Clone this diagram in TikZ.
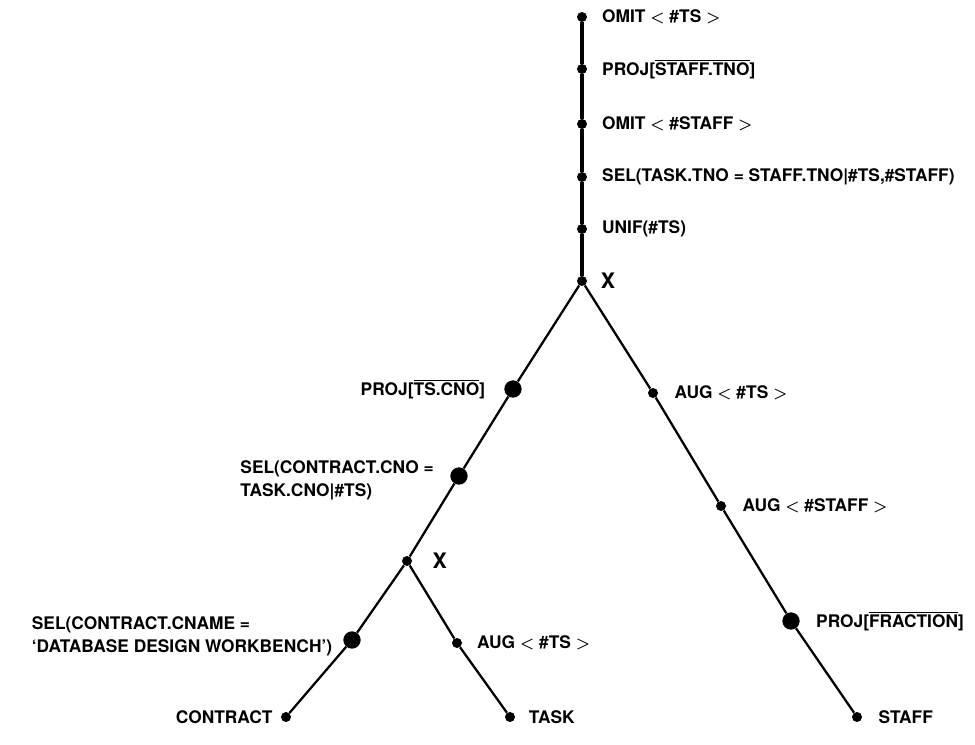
\documentclass[tikz,border=0pt]{standalone}
\usepackage{amsmath}
\usepackage{fontspec}
\setmainfont{TeX Gyre Heros}
\usetikzlibrary{positioning}

\newcommand{\lt}{\ensuremath{\boldsymbol{<}}}
\newcommand{\gt}{\ensuremath{\boldsymbol{>}}}

\begin{document}
\begin{tikzpicture}[x=0.75pt,y=-0.75pt,
    op/.style={circle,fill=black,inner sep=0pt,minimum size=7.5pt},
    bigop/.style={circle,fill=black,inner sep=0pt,minimum size=13pt},
    lbl/.style={inner sep=0pt,font=\fontsize{13}{17}\selectfont\bfseries},
    cross/.style={inner sep=0pt,font=\fontsize{16}{18}\selectfont\bfseries},
    arc/.style={line width=1.7pt},
    stem/.style={line width=2.3pt}]
    \useasboundingbox (0,0) rectangle (975,745);

    % operators above the top join
    \node[op] (omitts) at (582,17) {};
    \node[op] (projtno) at (582,69) {};
    \node[op] (omitstaff) at (582,124) {};
    \node[op] (seltno) at (582,177) {};
    \node[op] (unif) at (582,229) {};
    \node[op] (jointop) at (582,281) {};

    % left branch
    \node[bigop] (projcno) at (513,389) {};
    \node[bigop] (selcno) at (459,476) {};
    \node[op] (joinlow) at (407,561) {};
    \node[bigop] (selcname) at (352,640) {};
    \node[op] (contract) at (286,717) {};
    \node[op] (augtsl) at (457,643) {};
    \node[op] (task) at (510,717) {};

    % right branch
    \node[op] (augtsr) at (653,393) {};
    \node[op] (augstaff) at (721,506) {};
    \node[bigop] (projfrac) at (791,621) {};
    \node[op] (staff) at (857,717) {};

    % labels
    \node[lbl,right=11pt of omitts] (tomitts) {OMIT \lt{} \#TS \gt};
    \node[lbl,right=11pt of projtno] (tprojtno) {PROJ[$\overline{\mbox{STAFF.TNO}}$]};
    \node[lbl,right=11pt of omitstaff] (tomitstaff) {OMIT \lt{} \#STAFF \gt};
    \node[lbl,right=11pt of seltno] (tseltno) {SEL(TASK.TNO = STAFF.TNO|\#TS,\#STAFF)};
    \node[lbl,right=11pt of unif] (tunif) {UNIF(\#TS)};
    \node[cross,right=10pt of jointop] (xtop) {X};

    \node[lbl,left=14pt of projcno] (tprojcno) {PROJ[$\overline{\mbox{TS.CNO}}$]};
    \node[lbl,align=left,left=12pt of selcno,yshift=-3pt] (tselcno) {SEL(CONTRACT.CNO =\\TASK.CNO|\#TS)};
    \node[cross,right=15pt of joinlow] (xlow) {X};
    \node[lbl,align=left,left=8pt of selcname,yshift=3pt] (tselcname) {SEL(CONTRACT.CNAME =\\`DATABASE DESIGN WORKBENCH')};
    \node[lbl,left=6pt of contract] (tcontract) {CONTRACT};
    \node[lbl,right=11pt of augtsl] (taugtsl) {AUG \lt{} \#TS \gt};
    \node[lbl,right=10pt of task] (ttask) {TASK};

    \node[lbl,right=12pt of augtsr] (taugtsr) {AUG \lt{} \#TS \gt};
    \node[lbl,right=12pt of augstaff] (taugstaff) {AUG \lt{} \#STAFF \gt};
    \node[lbl,right=12pt of projfrac] (tprojfrac) {PROJ[$\overline{\mbox{FRACTION}}$]};
    \node[lbl,right=12pt of staff] (tstaff) {STAFF};

    % tree edges
    \draw[stem] (omitts) -- (projtno) -- (omitstaff) -- (seltno) -- (unif) -- (jointop);
    \draw[arc] (jointop) -- (projcno) -- (selcno) -- (joinlow);
    \draw[arc] (joinlow) -- (selcname) -- (contract);
    \draw[arc] (joinlow) -- (augtsl) -- (task);
    \draw[arc] (jointop) -- (augtsr) -- (augstaff) -- (projfrac) -- (staff);
\end{tikzpicture}
\end{document}
